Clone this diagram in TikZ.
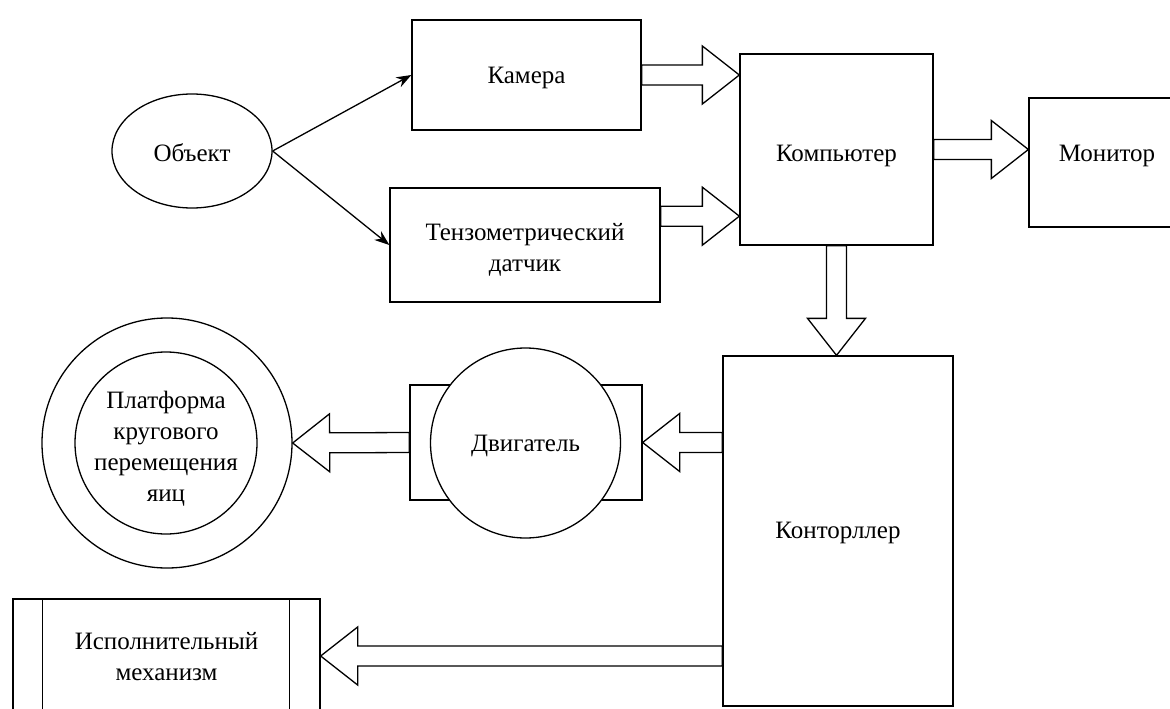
\documentclass[tikz,border=0pt]{standalone}
\usepackage{fontspec}
\setmainfont{Liberation Serif}
\usetikzlibrary{calc,shapes.geometric,arrows.meta}
\begin{document}
\begin{tikzpicture}[x=1pt,y=-1pt,
  line width=1.3pt,
  txt/.style={font=\fontsize{25}{31}\selectfont, align=center},
  box/.style={draw, fill=white, rectangle, inner sep=0pt},
  rnd/.style={draw, fill=white, circle, inner sep=0pt},
  lbl/.style 2 args={label={[txt,yshift=-#1pt]center:{#2}}},
  thin arrow/.style={-{Stealth[length=15pt,width=11pt]}},
  blockarrow/.style={draw, fill=white, line join=miter, to path={
    ($(\tikztotarget)!37pt!(\tikztostart)$) coordinate (ba-h)
    ($(\tikztostart)!10pt!90:(\tikztotarget)$)
    -- ($(ba-h)!10pt!-90:(\tikztostart)$)
    -- ($(ba-h)!29pt!-90:(\tikztostart)$)
    -- (\tikztotarget)
    -- ($(ba-h)!29pt!90:(\tikztostart)$)
    -- ($(ba-h)!10pt!90:(\tikztostart)$)
    -- ($(\tikztostart)!10pt!-90:(\tikztotarget)$)
    -- cycle}}
]
\useasboundingbox (0,0) rectangle (1170,709);
\clip (0,0) rectangle (1170,709);

% nodes
\node[draw, ellipse, inner sep=0pt, minimum width=160pt, minimum height=114pt, lbl={2}{Объект}] (obj) at (192,151) {};
\node[box, minimum width=229pt, minimum height=110pt, lbl={3}{Камера}] (cam) at (526.5,75) {};
\node[box, minimum width=270pt, minimum height=114pt, lbl={5}{Тензометрический\\датчик}] (sens) at (525,245) {};
\node[box, minimum width=193pt, minimum height=191pt, lbl={6}{Компьютер}] (comp) at (836.5,149.5) {};
\node[box, minimum width=156pt, minimum height=129pt] (mon) at (1107,162.5) {};
\node[txt] (montxt) at (1107,156) {Монитор};
\node[box, minimum width=230pt, minimum height=350pt, lbl={2}{Конторллер}] (ctrl) at (838,531) {};
\node[box, minimum width=232pt, minimum height=115pt] (motorbox) at (526,442.5) {};
\node[rnd, minimum size=190pt, lbl={3}{Двигатель}] (motor) at (525.5,443) {};
\node[rnd, minimum size=250pt] (platout) at (167,443) {};
\node[rnd, minimum size=182pt, lbl={6}{Платформа\\кругового\\перемещения\\яиц}] (platin) at (166,443) {};
\node[box, minimum width=307pt, minimum height=114pt, lbl={1}{Исполнительный\\механизм}] (act) at (166.5,656) {};
\draw ($(act.north west)+(30,0)$) -- ($(act.south west)+(30,0)$);
\draw ($(act.north east)+(-31,0)$) -- ($(act.south east)+(-31,0)$);

% thin arrows
\draw[thin arrow] (obj.east) -- (cam.west);
\draw[thin arrow] (obj.east) -- (sens.west);

% block arrows
\coordinate (s1) at ($(sens.north east)!0.25!(sens.south east)$);
\draw[blockarrow] (cam.east) to (cam.east -| comp.west);
\draw[blockarrow] (s1) to (s1 -| comp.west);
\draw[blockarrow] (comp.east) to (comp.east -| mon.west);
\draw[blockarrow] (comp.south) to (comp.south |- ctrl.north);
\draw[blockarrow] (ctrl.west |- motorbox.east) to (motorbox.east);
\draw[blockarrow] (motorbox.west) to (platout.east);
\draw[blockarrow] (ctrl.west |- act.east) to (act.east);
\end{tikzpicture}
\end{document}
